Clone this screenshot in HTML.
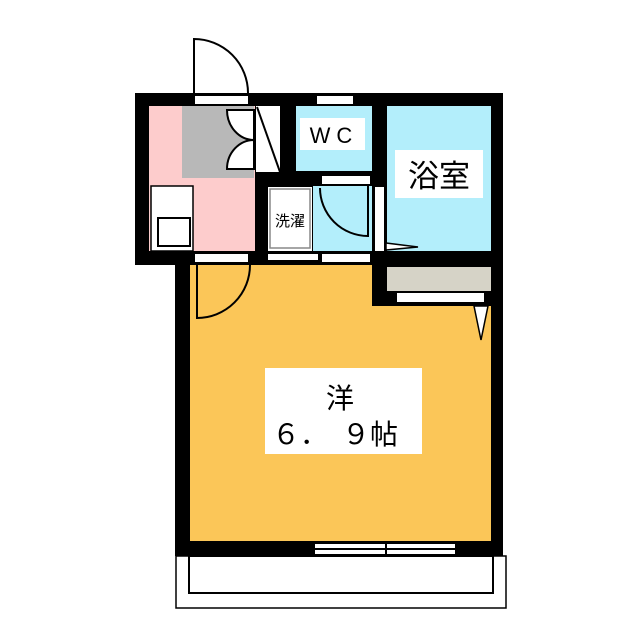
<!DOCTYPE html>
<html><head><meta charset="utf-8"><style>html,body{margin:0;padding:0;background:#fff}svg{display:block}</style></head><body>
<svg width="640" height="640" viewBox="0 0 640 640" xmlns="http://www.w3.org/2000/svg" font-family="'Liberation Sans','Noto Sans CJK JP',sans-serif">
<rect width="640" height="640" fill="#fff"/>
<rect x="176" y="556" width="330" height="52" fill="#fff" stroke="#000" stroke-width="1.5"/>
<rect x="189" y="556" width="304" height="37" fill="#fff" stroke="#000" stroke-width="2"/>
<rect x="135" y="93" width="368" height="172" fill="#000"/>
<rect x="175" y="250" width="328" height="306" fill="#000"/>
<rect x="190" y="265" width="301" height="276" fill="#fbc658"/>
<rect x="372" y="251" width="131" height="55" fill="#000"/>
<rect x="387" y="267" width="104" height="24" fill="#d6d3c7"/>
<rect x="397" y="293" width="87" height="9" fill="#fff"/>
<polygon points="474,306 488,306 481,340" fill="#fff" stroke="#000" stroke-width="1.5"/>
<rect x="149" y="106" width="106" height="145" fill="#fdcccc"/>
<rect x="182" y="106" width="72" height="72" fill="#b8b8b8"/>
<rect x="151" y="186" width="42" height="65" fill="#fff" stroke="#000" stroke-width="1.5"/>
<rect x="158" y="218" width="32" height="28" fill="#fff" stroke="#000" stroke-width="2"/>
<path d="M227,110 A27,30 0 0 0 254,140 L254,110 Z" fill="#fff" stroke="#000" stroke-width="2"/>
<path d="M254,140 A27,29 0 0 0 227,169 L254,169 Z" fill="#fff" stroke="#000" stroke-width="2"/>
<rect x="256" y="106" width="24" height="66" fill="#fff"/>
<line x1="257" y1="107" x2="280" y2="172" stroke="#000" stroke-width="2"/>
<rect x="296" y="106" width="76" height="65" fill="#b3eefb"/>
<rect x="300" y="118" width="65" height="32" fill="#fff"/>
<text x="334" y="143" font-size="22" text-anchor="middle" letter-spacing="6">WC</text>
<rect x="387" y="106" width="104" height="145" fill="#b3eefb"/>
<rect x="395" y="150" width="88" height="48" fill="#fff"/>
<text x="439" y="187" font-size="31" text-anchor="middle">浴室</text>
<rect x="375" y="187" width="9" height="64" fill="#fff"/>
<polygon points="386,243 386,250 418,247" fill="#fff" stroke="#000" stroke-width="1.5"/>
<rect x="268" y="187" width="44" height="64" fill="#fff"/>
<rect x="270" y="189" width="40" height="59" fill="#fff" stroke="#888" stroke-width="1.5"/>
<text x="290" y="226" font-size="15" text-anchor="middle">洗濯</text>
<rect x="313" y="186" width="59" height="65" fill="#b3eefb"/>
<path d="M320,188 A48,48 0 0 0 368,236 L368,186" fill="none" stroke="#000" stroke-width="2"/>
<rect x="195" y="96" width="53" height="8" fill="#fff"/>
<rect x="317" y="96" width="36" height="8" fill="#fff"/>
<rect x="322" y="176" width="48" height="8" fill="#fff"/>
<rect x="195" y="254" width="53" height="8" fill="#fff"/>
<rect x="268" y="254" width="50" height="6" fill="#fff"/>
<rect x="322" y="254" width="48" height="8" fill="#fff"/>
<path d="M194,93 L194,39 A54,54 0 0 1 248,93" fill="#fff" stroke="#000" stroke-width="2"/>
<path d="M197,265 L197,318 A53,53 0 0 0 250,265" fill="none" stroke="#000" stroke-width="2"/>
<rect x="315" y="544" width="140" height="4" fill="#fff"/>
<rect x="315" y="550" width="140" height="4" fill="#fff"/>
<line x1="386" y1="541" x2="386" y2="557" stroke="#000" stroke-width="2"/>
<rect x="265" y="368" width="157" height="86" fill="#fff"/>
<text x="340" y="408" font-size="28" text-anchor="middle">洋</text>
<text x="272" y="444" font-size="28">６．　９帖</text>
</svg>
</body></html>
